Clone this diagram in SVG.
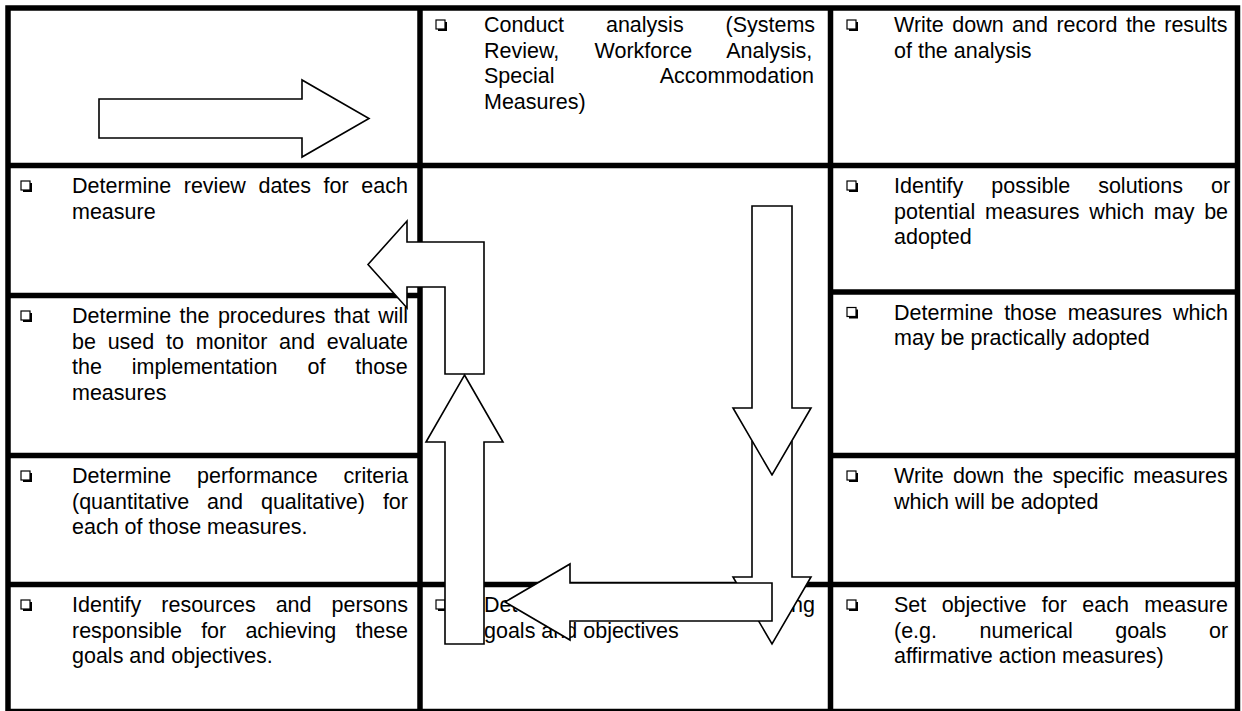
<svg xmlns="http://www.w3.org/2000/svg" width="1242" height="711" viewBox="0 0 1242 711">
<style>
.t{font-family:"Liberation Sans",Arial,Helvetica,sans-serif;font-size:21.5px;fill:#000}
.g{stroke:#000;stroke-width:5.5;fill:none}
.a{fill:#fff;stroke:#000;stroke-width:1.6;stroke-linejoin:miter}
.f{fill:#fff;stroke:none}
.s{fill:none;stroke:#000;stroke-width:1.6;stroke-linejoin:miter}
</style>
<defs>
<g id="cb"><rect x="0" y="0" width="9" height="9" fill="#fff" stroke="#000" stroke-width="1.2"/><path d="M2,10 H10 V2" fill="none" stroke="#000" stroke-width="2"/></g>
</defs>
<rect width="1242" height="711" fill="#fff"/>
<g id="grid" class="g">
<rect x="8" y="8" width="1229.5" height="703.5"/>
<line x1="420" y1="8" x2="420" y2="711"/>
<line x1="830.5" y1="8" x2="830.5" y2="711"/>
<line x1="8" y1="165.5" x2="1237.5" y2="165.5"/>
<line x1="8" y1="295.5" x2="420" y2="295.5"/>
<line x1="8" y1="455.5" x2="420" y2="455.5"/>
<line x1="8" y1="584.5" x2="1237.5" y2="584.5"/>
<line x1="830.5" y1="292" x2="1237.5" y2="292"/>
<line x1="830.5" y1="455.5" x2="1237.5" y2="455.5"/>
</g>
<g id="cell-conduct">
<use href="#cb" x="436" y="20"/>
<text class="t" x="484" y="32" word-spacing="35.9">Conduct analysis (Systems</text>
<text class="t" x="484" y="57.5" word-spacing="29.3">Review, Workforce Analysis,</text>
<text class="t" x="484" y="83" word-spacing="100.4">Special Accommodation</text>
<text class="t" x="484" y="108.5">Measures)</text>
</g>
<g id="cell-record">
<use href="#cb" x="847" y="20"/>
<text class="t" x="894" y="32" word-spacing="2.5">Write down and record the results</text>
<text class="t" x="894" y="57.5">of the analysis</text>
</g>
<g id="cell-review">
<use href="#cb" x="21" y="181"/>
<text class="t" x="72" y="193" word-spacing="6.6">Determine review dates for each</text>
<text class="t" x="72" y="218.5">measure</text>
</g>
<g id="cell-procedures">
<use href="#cb" x="21" y="311"/>
<text class="t" x="72" y="323" word-spacing="2.45">Determine the procedures that will</text>
<text class="t" x="72" y="348.5" word-spacing="5.76">be used to monitor and evaluate</text>
<text class="t" x="72" y="374" word-spacing="23.9">the implementation of those</text>
<text class="t" x="72" y="399.5">measures</text>
</g>
<g id="cell-criteria">
<use href="#cb" x="21" y="471"/>
<text class="t" x="72" y="483" word-spacing="19.9">Determine performance criteria</text>
<text class="t" x="72" y="508.5" word-spacing="12">(quantitative and qualitative) for</text>
<text class="t" x="72" y="534">each of those measures.</text>
</g>
<g id="cell-resources">
<use href="#cb" x="21" y="600"/>
<text class="t" x="72" y="612" word-spacing="14">Identify resources and persons</text>
<text class="t" x="72" y="637.5" word-spacing="13.2">responsible for achieving these</text>
<text class="t" x="72" y="663">goals and objectives.</text>
</g>
<g id="cell-solutions">
<use href="#cb" x="847" y="181"/>
<text class="t" x="894" y="193" word-spacing="22">Identify possible solutions or</text>
<text class="t" x="894" y="218.5" word-spacing="3.75">potential measures which may be</text>
<text class="t" x="894" y="244">adopted</text>
</g>
<g id="cell-practical">
<use href="#cb" x="847" y="307.5"/>
<text class="t" x="894" y="319.5" word-spacing="5">Determine those measures which</text>
<text class="t" x="894" y="345">may be practically adopted</text>
</g>
<g id="cell-specific">
<use href="#cb" x="847" y="471"/>
<text class="t" x="894" y="483" word-spacing="3.15">Write down the specific measures</text>
<text class="t" x="894" y="508.5">which will be adopted</text>
</g>
<g id="cell-objective">
<use href="#cb" x="847" y="600"/>
<text class="t" x="894" y="612" word-spacing="9.4">Set objective for each measure</text>
<text class="t" x="894" y="637.5" word-spacing="36.5">(e.g. numerical goals or</text>
<text class="t" x="894" y="663">affirmative action measures)</text>
</g>
<g id="cell-timeframes">
<use href="#cb" x="436" y="600"/>
<text class="t" x="484" y="612" word-spacing="-2.8">Determine timeframes for achieving</text>
<text class="t" x="484" y="637.5">goals and objectives</text>
</g>
<g id="connectors">
<polygon class="a" points="99,99 302,99 302,80 369,118.5 302,157 302,138 99,138"/>
<polygon class="a" points="752,206 792,206 792,408 811,408 772,475 733,408 752,408"/>
<polygon class="f" points="752,476 792,476 792,577 811,577 772,644 733,577 752,577"/>
<path class="s" d="M752,441 V577 H733 L772,644 L811,577 H792 V441"/>
<polygon class="a" points="368,264.5 407,221 407,242 484,242 484,374 445,374 445,287 407,287 407,308"/>
<polygon class="a" points="464.5,375 503,442 484,442 484,644 445,644 445,442 426,442"/>
<polygon class="a" points="505,602 570,564 570,583 772,583 772,621 570,621 570,640"/>
</g>
</svg>
